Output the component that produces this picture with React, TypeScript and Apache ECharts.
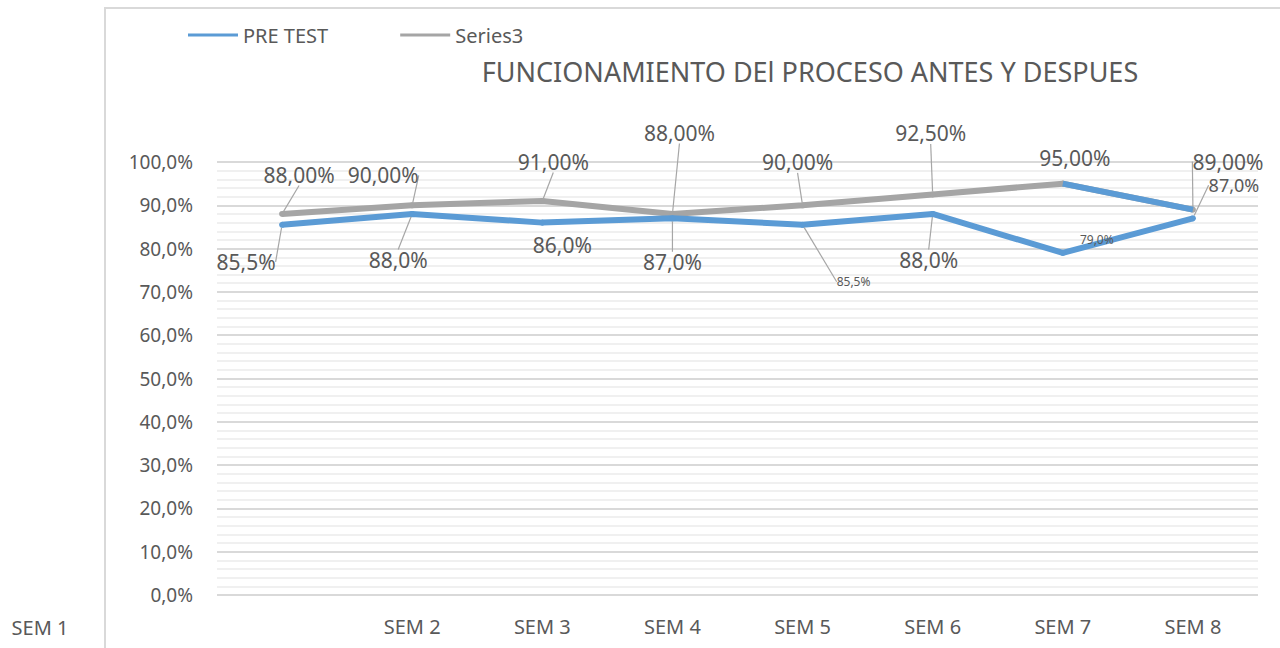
import React, { useEffect, useRef } from "react";
import * as echarts from "echarts";

const categories = ["SEM 1", "SEM 2", "SEM 3", "SEM 4", "SEM 5", "SEM 6", "SEM 7", "SEM 8"];
const preTest = [85.5, 88.0, 86.0, 87.0, 85.5, 88.0, 79.0, 87.0];
const series3 = [88.0, 90.0, 91.0, 88.0, 90.0, 92.5, 95.0, 89.0];

// label placement (offset from point, in px), leader visibility, font sizes
const preTestLabelOffsets = [[-36, 37], [-14, 46], [20, 22], [0, 44], [51, 57], [-4, 46], [34, -13], [41, -33]];
const preTestLeader = [true, true, false, true, true, true, false, true];
const preTestFont = [21, 21, 21, 21, 12, 21, 12, 18];
const series3LabelOffsets = [[17, -39], [-29, -30], [11, -39], [7, -81], [-5, -43], [-2, -61], [12, -26], [35, -48]];
const series3Leader = [true, true, true, true, true, true, false, true];
// index from which the Series3 line is drawn in blue
const series3BlueFrom = 6;

const BLUE = "#5b9bd5";
const GRAY = "#a5a5a5";
const TXT = "#595959";
const FONT = "'Noto Sans', sans-serif";

const fmt = (v: number, d: number) => v.toFixed(d).replace(".", ",") + "%";

export default function App() {
  const ref = useRef<HTMLDivElement>(null);
  useEffect(() => {
    const chart = echarts.init(ref.current!, null, { renderer: "svg" });
    chart.setOption({
      animation: false,
      backgroundColor: "#ffffff",
      textStyle: { fontFamily: FONT },
      title: {
        text: "FUNCIONAMIENTO DEl PROCESO ANTES Y DESPUES",
        left: 805,
        top: 53,
        textAlign: "center",
        textStyle: { fontSize: 27, fontWeight: "normal", color: TXT, fontFamily: FONT },
      },
      legend: {
        left: 183,
        top: 20,
        itemWidth: 50,
        itemHeight: 3,
        itemGap: 72,
        icon: "rect",
        textStyle: { fontSize: 20, color: TXT, fontFamily: FONT },
        data: [
          { name: "PRE TEST", itemStyle: { color: BLUE } },
          { name: "Series3", itemStyle: { color: GRAY } },
        ],
      },
      grid: { left: 217, top: 162, width: 1041, height: 433, containLabel: false },
      xAxis: {
        type: "category",
        data: categories,
        boundaryGap: true,
        axisLine: { show: false },
        axisTick: { show: false },
        splitLine: { show: false },
        axisLabel: {
          interval: 0,
          margin: 21,
          fontSize: 20,
          color: TXT,
          fontFamily: FONT,
          formatter: (v: string, i: number) => (i === 0 ? "" : v),
        },
      },
      yAxis: {
        type: "value",
        min: 0,
        max: 100,
        interval: 10,
        axisLine: { show: false },
        axisTick: { show: false },
        axisLabel: {
          margin: 24,
          fontSize: 19,
          color: TXT,
          fontFamily: FONT,
          formatter: (v: number) => fmt(v, 1),
        },
        splitLine: { show: true, lineStyle: { color: "#d9d9d9", width: 2 } },
        minorTick: { show: false, splitNumber: 5 },
        minorSplitLine: { show: true, lineStyle: { color: "#f0f0f0", width: 2 } },
      },
      series: [
        {
          name: "Series3",
          type: "line",
          symbol: "circle",
          symbolSize: 6,
          itemStyle: { color: GRAY },
          lineStyle: { width: 6, color: GRAY },
          data: series3.map((v, i) => ({
            value: v,
            labelLine: { show: series3Leader[i] },
          })),
          label: {
            show: true,
            position: "inside",
            fontSize: 21,
            color: TXT,
            fontFamily: FONT,
            formatter: (p: any) => fmt(p.value, 2),
          },
          labelLine: { show: true, lineStyle: { color: "#a6a6a6", width: 1.2 } },
          labelLayout: (p: any) => ({ dx: series3LabelOffsets[p.dataIndex][0], dy: series3LabelOffsets[p.dataIndex][1] }),
          z: 2,
        },
        {
          name: "Series3 tail",
          type: "line",
          symbol: "none",
          lineStyle: { width: 6, color: BLUE },
          itemStyle: { color: BLUE },
          data: series3.map((v, i) => (i >= series3BlueFrom ? v : "-")),
          silent: true,
          z: 3,
        },
        {
          name: "PRE TEST",
          type: "line",
          symbol: "circle",
          symbolSize: 6,
          itemStyle: { color: BLUE },
          lineStyle: { width: 6, color: BLUE },
          data: preTest.map((v, i) => ({
            value: v,
            labelLine: { show: preTestLeader[i] },
            label: { fontSize: preTestFont[i] },
          })),
          label: {
            show: true,
            position: "inside",
            fontSize: 21,
            color: TXT,
            fontFamily: FONT,
            formatter: (p: any) => fmt(p.value, 1),
          },
          labelLine: { show: true, lineStyle: { color: "#a6a6a6", width: 1.2 } },
          labelLayout: (p: any) => ({ dx: preTestLabelOffsets[p.dataIndex][0], dy: preTestLabelOffsets[p.dataIndex][1] }),
          z: 3,
        },
      ],
      graphic: [
        {
          type: "rect",
          shape: { x: 105, y: 8, width: 1200, height: 700 },
          style: { fill: "none", stroke: "#d9d9d9", lineWidth: 2 },
          silent: true,
        },
        {
          type: "text",
          x: 40,
          y: 627,
          style: {
            text: "SEM 1",
            fontSize: 20,
            fill: TXT,
            fontFamily: FONT,
            textAlign: "center",
            textVerticalAlign: "middle",
          },
        },
      ],
    });
    return () => chart.dispose();
  }, []);
  return (
    <div
      ref={ref}
      style={{ position: "absolute", left: 0, top: 0, width: 1280, height: 648 }}
    />
  );
}
